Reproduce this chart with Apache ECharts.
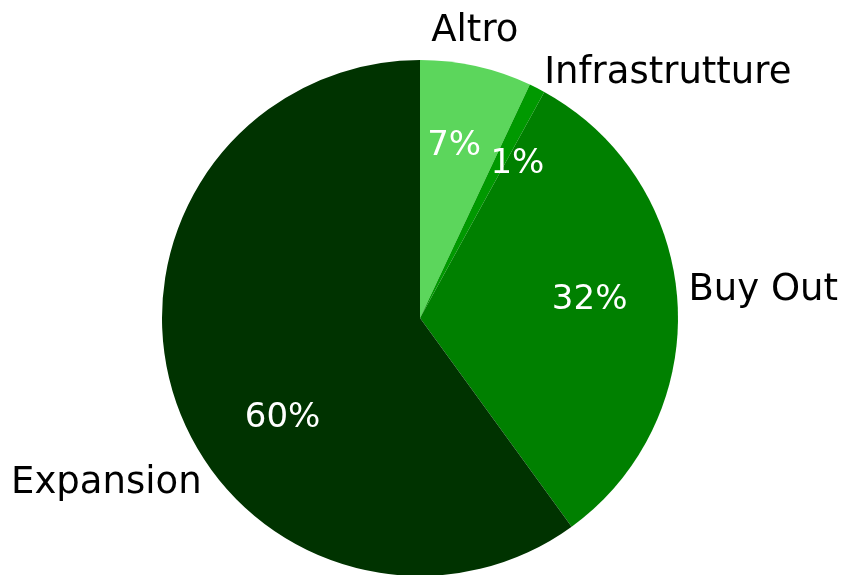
<!DOCTYPE html>
<html>
<head>
<meta charset="utf-8">
<script src="https://cdn.jsdelivr.net/npm/echarts@6/dist/echarts.min.js"></script>
<style>
html, body { margin: 0; padding: 0; background: #fff; }
#main { width: 844px; height: 575px; }
</style>
</head>
<body>
<div id="main"></div>
<script>
var myChart = echarts.init(document.getElementById('main'));

// settori e quote (%)
var labels = ['Altro', 'Infrastrutture', 'Buy Out', 'Expansion'];
var shares = [7, 1, 32, 60];
var colors = ['#5cd65c', '#009900', '#008000', '#003300'];

// piccoli spostamenti delle etichette rispetto alla posizione di default
var outerNudge = [[-50, -35], [2, -15], [6, -11], [32, 86]];
var innerNudge = [[-4, -1], [18, 2], [-5, -7], [29, 46]];

var font = 'DejaVu Sans';
var center = [420, 318];

var pieData = labels.map(function (name, i) {
	return { name: name, value: shares[i], itemStyle: { color: colors[i] } };
});

var option = {
	backgroundColor: '#fff',
	animation: false,
	series: [{
			type: 'pie',
			center: center,
			radius: 258,
			startAngle: 90,
			clockwise: true,
			avoidLabelOverlap: false,
			silent: true,
			data: pieData,
			itemStyle: { borderWidth: 0 },
			label: {
				show: true,
				position: 'outside',
				alignTo: 'none',
				formatter: '{b}',
				color: '#000',
				fontFamily: font,
				fontSize: 37
			},
			labelLine: { show: false, length: 0, length2: 0 },
			labelLayout: function (p) {
				return { dx: outerNudge[p.dataIndex][0], dy: outerNudge[p.dataIndex][1] };
			}
		},
		{
			// solo per le percentuali interne
			type: 'pie',
			center: center,
			radius: [86, 258],
			startAngle: 90,
			clockwise: true,
			avoidLabelOverlap: false,
			silent: true,
			data: pieData.map(function (d) {
				return { name: d.name, value: d.value };
			}),
			itemStyle: { color: 'rgba(0,0,0,0)', borderWidth: 0 },
			label: {
				show: true,
				position: 'inside',
				formatter: function (p) { return Math.round(p.percent) + '%'; },
				color: '#fff',
				fontFamily: font,
				fontSize: 34
			},
			labelLine: { show: false },
			labelLayout: function (p) {
				return { dx: innerNudge[p.dataIndex][0], dy: innerNudge[p.dataIndex][1] };
			}
		}
	]
};

myChart.setOption(option);
</script>
</body>
</html>
